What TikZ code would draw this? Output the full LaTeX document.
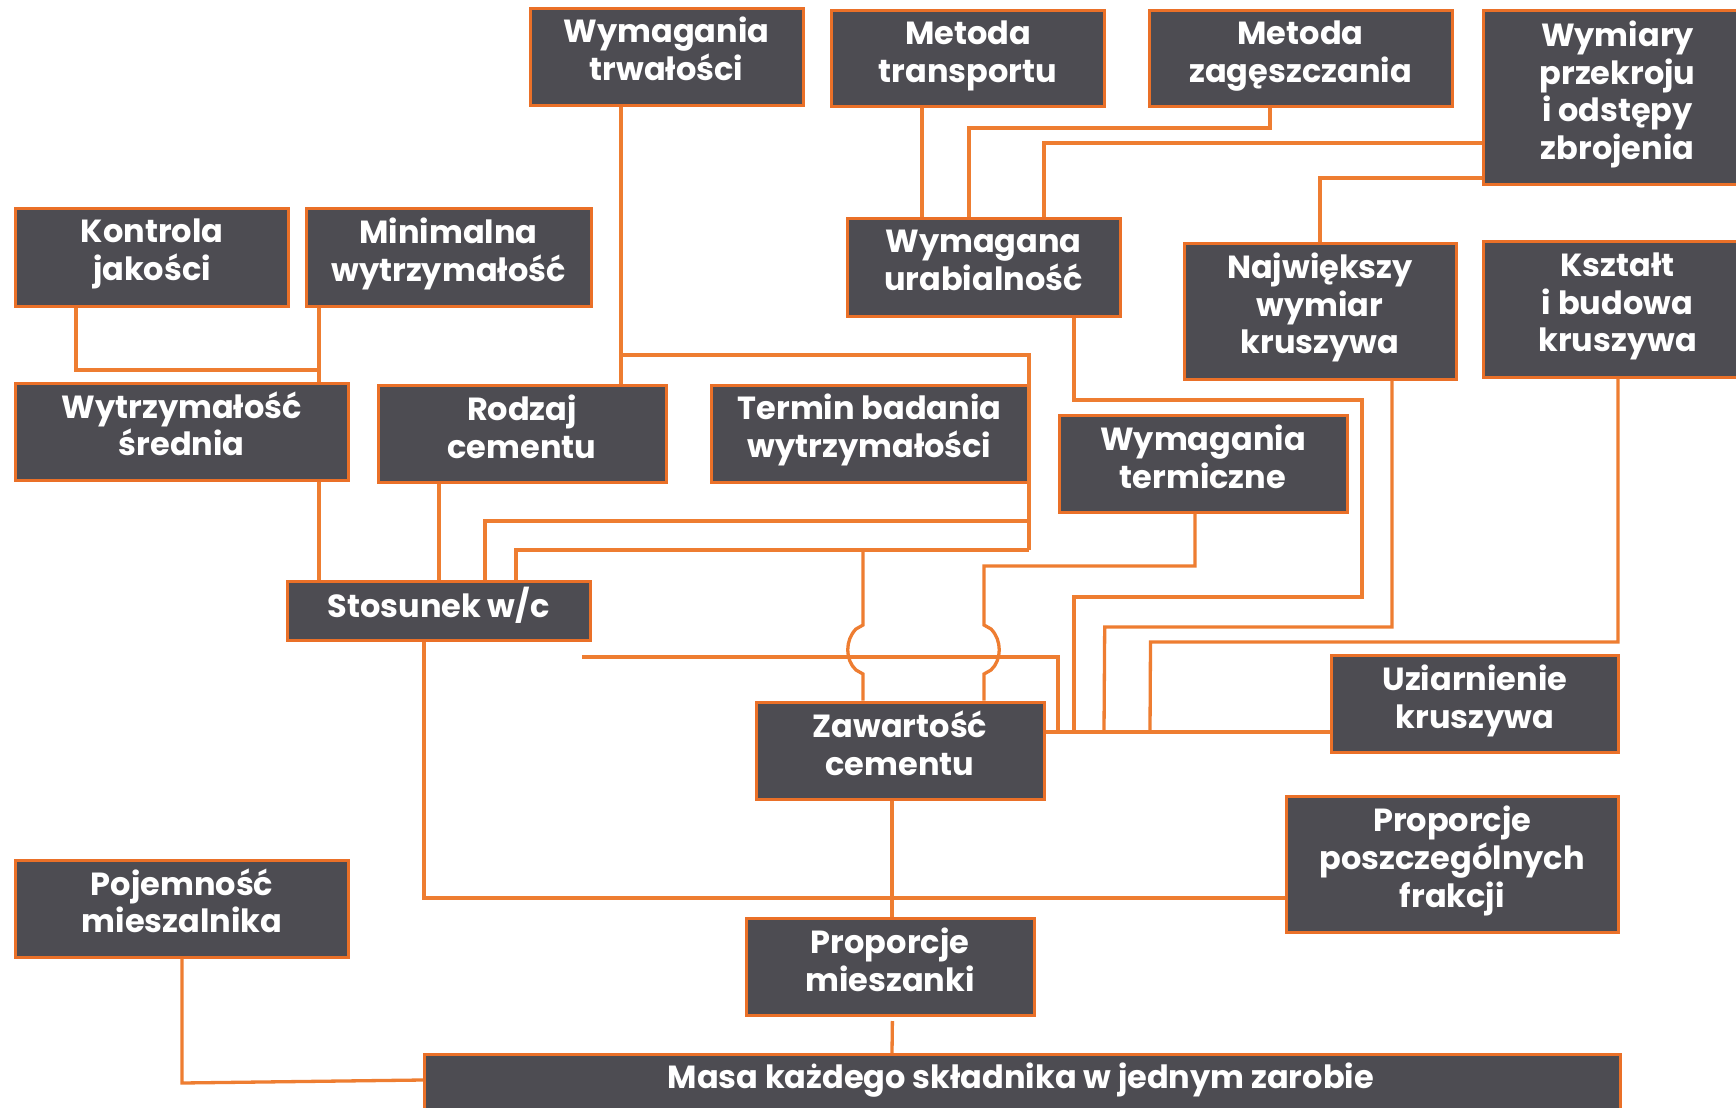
\documentclass[tikz,border=0pt]{standalone}
\usepackage{fontspec}
\setmainfont{Poppins}
\definecolor{boxfill}{RGB}{77,76,82}
\definecolor{boxline}{RGB}{234,112,40}
\definecolor{conline}{RGB}{238,125,49}
\tikzset{
  box/.style={draw=boxline, line width=1.5pt, fill=boxfill, inner sep=0pt},
  boxtext/.style={text=white, align=center, inner sep=0pt, font=\fontsize{16pt}{18.8pt}\selectfont\bfseries},
  conn/.style={draw=conline, line width=1.65pt}
}
% name, x1, y1, x2, y2, text shift (px, upward), text
\newcommand\mybox[7]{%
  \node[box, minimum width={(#4-#2)*0.5pt}, minimum height={(#5-#3)*0.5pt}] (#1) at ({(#2+#4)/2},{(#3+#5)/2}) {};
  \node[boxtext] (#1t) at ({(#2+#4)/2},{(#3+#5)/2-#6}) {#7};}
\begin{document}
\begin{tikzpicture}[x=0.5pt,y=-0.5pt]
\useasboundingbox (0,0) rectangle (1736,1108);
\fill[white] (0,0) rectangle (1736,1108);
% vertical reference coordinates
\foreach \n in {76,182,319,424,439,485,516,621,863,892,922,969,984,1029,1044,1058,1074,1104,1150,1195,1270,1320,1362,1392,1618}
  \coordinate (vx\n) at (\n,0);
\foreach \n in {143,178,732,898,1080}
  \coordinate (hy\n) at (0,\n);
% boxes
\mybox{trwalosc}{530}{8}{803}{105}{7.7}{Wymagania\\trwałości}
\mybox{transport}{831.5}{10}{1104.5}{106}{2.2}{Metoda\\transportu}
\mybox{zageszcz}{1149}{10}{1452}{106}{2.2}{Metoda\\zagęszczania}
\mybox{wymiary}{1483}{10}{1752}{184}{2.5}{Wymiary\\przekroju\\i odstępy\\zbrojenia}
\mybox{kontrola}{15.5}{208}{288.5}{306}{3.3}{Kontrola\\jakości}
\mybox{minimalna}{306}{208}{591}{306}{3.3}{Minimalna\\wytrzymałość}
\mybox{urabialnosc}{847}{218}{1120}{316}{6.6}{Wymagana\\urabialność}
\mybox{najw}{1184}{243}{1456}{379}{3.3}{Największy\\wymiar\\kruszywa}
\mybox{ksztalt}{1483}{241}{1752}{377}{2.5}{Kształt\\i budowa\\kruszywa}
\mybox{srednia}{15.5}{383}{348}{480}{7.7}{Wytrzymałość\\średnia}
\mybox{rodzaj}{378}{385}{666}{482}{6.6}{Rodzaj\\cementu}
\mybox{termin}{711}{385}{1028}{482}{3.3}{Termin badania\\wytrzymałości}
\mybox{termiczne}{1059}{415}{1347}{512}{6.6}{Wymagania\\termiczne}
\mybox{stosunek}{287}{581}{590}{640}{5.5}{Stosunek w/c}
\mybox{uziarnienie}{1331}{655}{1618.6}{752}{2.8}{Uziarnienie\\kruszywa}
\mybox{zawartosc}{756}{702}{1044}{799}{7.2}{Zawartość\\cementu}
\mybox{poszcz}{1286}{796.5}{1618.6}{932}{3.3}{Proporcje\\poszczególnych\\frakcji}
\mybox{pojemnosc}{15.5}{860}{348.5}{957}{7.7}{Pojemność\\mieszalnika}
\mybox{mieszanki}{746}{918.5}{1034}{1015.6}{7.2}{Proporcje\\mieszanki}
\node[box, minimum width={(1618.6-423)*0.5pt}, minimum height={(1125-1053)*0.5pt}, anchor=north west] (masa) at (423,1053) {};
\node[boxtext] (masat) at (1020.8,1080) {Masa każdego składnika w jednym zarobie};
% junctions
\coordinate (jKM) at (319,370);
\coordinate (jT) at (621,355);
\coordinate (jT2) at (1029,550);
\coordinate (j521) at (1029,521);
\coordinate (jH1) at (863,550);
\coordinate (jSW) at (582,657);
\coordinate (jGap) at (892.4,1021);
% connectors
\draw[conn] (kontrola.south -| vx76) |- (jKM);
\draw[conn] (minimalna.south -| vx319) -- (srednia.north -| vx319);
\draw[conn] (srednia.south -| vx319) -- (stosunek.north -| vx319);
\draw[conn] (rodzaj.south -| vx439) -- (stosunek.north -| vx439);
\draw[conn] (trwalosc.south -| vx621) -- (rodzaj.north -| vx621);
\draw[conn] (jT) -| (jT2);
\draw[conn] (stosunek.north -| vx485) |- (j521);
\draw[conn] (stosunek.north -| vx516) |- (jT2);
\draw[conn] (jH1) -- (863,625) -- (856,629) .. controls (845,640) and (845,660) .. (856,670) -- (863,674) -- (zawartosc.north -| vx863);
\draw[conn] (termiczne.south -| vx1195) |- (984,566) -- (984,625) -- (991,629) .. controls (1002,640) and (1002,660) .. (991,670) -- (984,674) -- (zawartosc.north -| vx984);
\draw[conn] (jSW) -| (vx1058 |- hy732);
\draw[conn] (zawartosc.east |- hy732) -- (uziarnienie.west |- hy732);
\draw[conn] (transport.south -| vx922) -- (urabialnosc.north -| vx922);
\draw[conn] (zageszcz.south -| vx1270) |- (969,128) -- (urabialnosc.north -| vx969);
\draw[conn] (wymiary.west |- hy143) -| (urabialnosc.north -| vx1044);
\draw[conn] (wymiary.west |- hy178) -| (najw.north -| vx1320);
\draw[conn] (urabialnosc.south -| vx1074) |- (1362,400) |- (1074,597) -- (vx1074 |- hy732);
\draw[conn] (najw.south -| vx1392) |- (1104.7,627) -- (vx1104 |- hy732);
\draw[conn] (ksztalt.south -| vx1618) |- (1150.5,642) -- (vx1150 |- hy732);
\draw[conn] (zawartosc.south -| vx892) -- (mieszanki.north -| vx892);
\draw[conn] (stosunek.south -| vx424) |- (poszcz.west |- hy898);
\draw[conn] (jGap) -- (masa.north -| vx892);
\draw[conn] (pojemnosc.south -| vx182) -- (182,1083) -- (masa.west |- hy1080);
\end{tikzpicture}
\end{document}
